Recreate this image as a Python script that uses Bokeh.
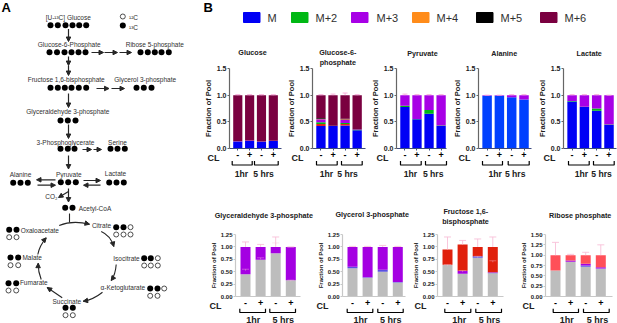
from bokeh.embed import file_html
from bokeh.resources import INLINE
from bokeh.plotting import figure
from bokeh.layouts import row, column
from bokeh.models import (Arrow, NormalHead, Label, Whisker, TeeHead, ColumnDataSource,
                          FixedTicker, Range1d, NumeralTickFormatter)
from bokeh.core.properties import value

FONT = "Liberation Sans"
M, M1, M2, M3, M4, M5, M6 = "M", "M+1", "M+2", "M+3", "M+4", "M+5", "M+6"
COLORS = {M: "#0000f5", M1: "#e0261a", M2: "#00b814", M3: "#a800e6", M4: "#ff8c1a", M5: "#000000", M6: "#7a0040"}
LEGEND_NAMES = [M, M2, M3, M4, M5, M6]
LEGEND_SWATCH_LEFT = [243, 291, 351, 412, 476, 540]
LEGEND_TEXT_LEFT = [267, 315, 376, 436, 500, 564]
TICK_SIGNS = ["-", "+", "-", "+"]

# ---- top row data -----------------------------------------------------
glucose = {M: [.13, .14, .125, .14], M3: [.005, .01, .005, .005], M6: [.865, .85, .87, .855]}
glucose_err = [1.01, 1.01, 1.01, 1.01]
g6p = {M: [.42, .42, .43, .34], M1: [.04, 0, .03, 0], M2: [.03, 0, .02, .005], M3: [.06, 0, .06, .01],
       M4: [.01, 0, .01, 0], M5: [.01, .005, .01, .005], M6: [.43, .575, .44, .64]}
g6p_err = [1.01, 1.02, 1.04, 1.01]
pyruvate = {M: [.78, .55, .65, .42], M2: [.02, .005, .07, .01], M3: [.2, .445, .28, .57]}
pyruvate_err = [1.02, 1.01, 1.01, 1.01]
alanine = {M: [.99, .99, .96, .92], M3: [.01, .01, .04, .08]}
alanine_err = [1.0, 1.0, 1.01, 1.01]
lactate = {M: [.88, .78, .71, .44], M2: [.01, .005, .04, .01], M3: [.11, .215, .25, .55]}
lactate_err = [1.01, 1.01, 1.01, 1.0]

# ---- bottom row data ----------------------------------------------------
GREY, BLUE2, PURPLE, RED, CORAL = "#bdbdbd", "#5a50e0", "#a400e2", "#e0200c", "#ff4f58"
ga3p = {"M": [.45, .74, .87, .33], "M+3": [.55, .26, .13, .67]}
ga3p_err = [1.10, 1.05, 1.20, 1.0]
ga3p_err2 = [.55, .78, 1.08, .33]
gro3p = {"M": [.57, .38, .5, .28], "M+1": [.03, .01, .04, .01], "M+3": [.4, .61, .46, .71]}
gro3p_err = [1.01, 1.01, 1.03, 1.01]
fbp = {"M": [.64, .46, .78, .47], "M+1": [0, .0, .03, .01], "M+3": [0, .06, 0, .01], "M+6": [.31, .53, .19, .51]}
fbp_err = [1.2, 1.13, 1.16, 1.2]
fbp_err2 = [.64, .52, .81, .72]
r5p = {"M": [.63, .84, .72, .67], "M+1": [0, 0, .03, .01], "M+3": [.0, .03, .04, .03], "M+5": [.37, .13, .21, .29]}
r5p_err = [1.31, 1.02, 1.07, 1.25]

# ---- pathway diagram ----------------------------------------------------
PATH_TEXT = [
    ("[U-¹³C] Glucose", 67.7, 17.3), ("Glucose-6-Phosphate", 68.7, 44), ("Ribose 5-phosphate", 154.3, 44),
    ("Fructose 1,6-bisphosphate", 65.7, 79.3), ("Glycerol 3-phosphate", 144.7, 79.3),
    ("Glyceraldehyde 3-phosphate", 67.3, 111.3), ("3-Phosphoglycerate", 65, 141.7), ("Serine", 117, 141.7),
    ("Alanine", 20, 174), ("Pyruvate", 68.3, 174), ("Lactate", 115, 173.3), ("CO₂", 51, 196),
    ("Acetyl-CoA", 94.5, 208.3), ("Citrate", 101, 225), ("Oxaloacetate", 39.3, 229.7), ("Malate", 31.7, 257),
    ("Isocitrate", 126, 257.7), ("Fumarate", 33.3, 282), ("α-Ketoglutarate", 122.3, 287.3), ("Succinate", 66.3, 300.7),
    ("¹²C", 133, 16.5), ("¹³C", 133, 26.5),
]
FILLED = [(50, 24.7), (57.3, 24.7), (65, 24.7), (72, 24.7), (78.7, 24.7), (85.7, 24.7), (122.3, 25),
          (49, 51.7), (56.5, 51.7), (64, 51.7), (71, 51.7), (78, 51.7), (85, 51.7),
          (140, 51.7), (147.3, 51.7), (154.3, 51.7), (161, 51.7), (168.3, 51.7),
          (50, 87.3), (57.3, 87.3), (64.3, 87.3), (71, 87.3), (78.3, 87.3), (85.7, 87.3),
          (136, 87.3), (143.3, 87.3), (151, 87.3), (60, 120), (67.3, 120), (75, 120),
          (60, 148.3), (67.3, 148.3), (74, 148.3), (110, 148.3), (117, 148.3), (124.3, 148.3),
          (12.7, 182.3), (20, 182.3), (27.3, 182.3), (60.3, 181.7), (67.7, 181.7), (75.3, 181.7),
          (108.7, 182), (116, 182), (123.3, 182), (64.7, 207.3), (72, 207.3),
          (115.7, 226.7), (123, 226.7), (8.7, 229.3), (16, 229.3), (10, 257), (17.7, 257),
          (143.7, 257.7), (150.3, 257.7), (8, 282.7), (15.7, 282.7), (149.7, 288), (157, 288),
          (65, 307.3), (72.3, 307.3)]
OPEN = [(122.3, 16), (130, 226.7), (115.7, 234), (123, 234), (130, 234), (8.7, 236.7), (16, 236.7),
        (10, 264.7), (17.7, 264.7), (157.3, 257.7), (143.7, 265), (150.3, 265), (157.3, 265),
        (8, 290), (15.7, 290), (163.7, 288), (149.7, 295.3), (157, 295.3), (65, 314.7), (72.3, 314.7)]
STRAIGHT = [(68, 28.5, 68, 41), (91, 52, 103, 52), (104, 52, 117, 52), (119, 52, 131, 52),
            (68, 56, 68, 65), (68, 65, 68, 75), (96, 88, 108.5, 88), (111, 88, 124, 88),
            (68, 93, 68, 107), (68, 124, 68, 138), (82, 149, 91, 149), (93, 149, 101, 149),
            (68, 155, 68, 168.5), (55, 179.3, 36, 179.3), (37, 184.7, 55, 184.7),
            (83, 180, 100, 180), (100, 184.7, 83, 184.7), (68, 188, 68, 201.5), (68, 191, 58, 197)]
CURVED = [(100.7, 231, 110, 235, 113.3, 246), (115.7, 264, 115, 274, 110.7, 280),
          (102, 291.7, 93, 299, 82.7, 300.7), (61.7, 297.3, 54, 292, 46.7, 287),
          (40.7, 279, 37.5, 271, 37.7, 262.7), (37.3, 254, 39, 245, 45.7, 237.3),
          (58.7, 225, 72, 219.5, 89, 223.7)]

# ---- chart furniture outside the plot frames, in page pixels ----------------
TITLES = [("Glucose", 252, 52), ("Glucose-6-", 337.3, 52), ("phosphate", 337.3, 61.5), ("Pyruvate", 422, 52.5),
          ("Alanine", 503.7, 52.5), ("Lactate", 588.7, 52.5),
          ("Glyceraldehyde 3-phosphate", 263.3, 214.7), ("Glycerol 3-phosphate", 371.7, 213.7),
          ("Fructose 1,6-", 465.3, 211.3), ("bisphosphate", 465, 220.7), ("Ribose phosphate", 579.7, 215)]
CL_TOP_X = [207, 291, 376, 458, 543]
CL_BOTTOM_X = [209, 316, 414, 522]
BRACKETS_TOP = [(231.7, 251.7), (254, 277.7), (316, 336.7), (341, 361.7), (400, 420.7), (425, 446),
                (482, 502), (507.7, 528.7), (568, 588.7), (593, 613.7)]
BRACKETS_BOTTOM = [(239.3, 265), (269.3, 295), (346.7, 372.3), (377.3, 402.7), (444.3, 470.3), (475.3, 501),
                   (552.7, 578), (583, 608.7)]
TIME_TOP_X = [241, 263, 326, 347, 410, 432.7, 494.7, 514.7, 581, 601]
TIME_BOTTOM_X = [252.7, 282.7, 360, 390.3, 458.7, 489, 566.3, 597]
TIME_LABELS = ["1hr", "5 hrs"]

ink = "#262626"


def blank(w, h, xr, yr):
    f = figure(width=w, height=h, x_range=Range1d(*xr), y_range=Range1d(*yr), output_backend="svg",
               toolbar_location=None, x_axis_location=None, y_axis_location=None, min_border=0,
               outline_line_color=None)
    f.grid.visible = False
    return f


path = blank(200, 323, (0, 200), (323, 0))
path.text([t[1] for t in PATH_TEXT], [t[2] for t in PATH_TEXT], text=[t[0] for t in PATH_TEXT],
          text_font=value(FONT), text_font_size="6.5px", text_align="center", text_baseline="middle", text_color="#303030")
path.scatter([d[0] for d in FILLED], [d[1] for d in FILLED], size=6, color="black", line_width=0)
path.scatter([d[0] for d in OPEN], [d[1] for d in OPEN], size=5, fill_color="white", line_color="#222", line_width=0.8)
for x0, y0, x1, y1 in STRAIGHT:
    path.add_layout(Arrow(x_start=x0, y_start=y0, x_end=x1, y_end=y1, line_width=1.2, line_color=ink,
                          end=NormalHead(size=4.5, fill_color=ink, line_color=ink)))
for x0, y0, cx, cy, x1, y1 in CURVED:
    path.quadratic(x0=[x0], y0=[y0], cx=[cx], cy=[cy], x1=[x1], y1=[y1], line_width=1.1, line_color=ink)
    path.add_layout(Arrow(x_start=x1 + (cx - x1) * 0.25, y_start=y1 + (cy - y1) * 0.25, x_end=x1, y_end=y1,
                          line_width=1, line_color=ink, end=NormalHead(size=4.5, fill_color=ink, line_color=ink)))
path.segment([69], [213], [69], [222], line_width=1.1, line_color=ink)
path.add_layout(Label(x=1, y=7, text="A", text_font=FONT, text_font_size="13px", text_font_style="bold",
                      text_baseline="middle", text_color="black"))

# ---- legend strip -----------------------------------------------------------
leg = blank(417, 42, (200, 617), (42, 0))
leg.quad(left=LEGEND_SWATCH_LEFT, right=[v + 16.5 for v in LEGEND_SWATCH_LEFT], top=[12] * 6, bottom=[22] * 6,
         color=[COLORS[n] for n in LEGEND_NAMES])
leg.text(LEGEND_TEXT_LEFT, [17] * 6, text=LEGEND_NAMES, text_font=value(FONT), text_font_size="11px",
         text_baseline="middle", text_color="#303030")
leg.add_layout(Label(x=203, y=7, text="B", text_font=FONT, text_font_size="13px", text_font_style="bold",
                     text_baseline="middle", text_color="black"))


def chart(stacks, colors, errors, fig_left, frame_left, frame_right, fig_right, heights, y_max, y_ticks,
          y_fmt, bar_px, pitch, first_px, errors2=None, small=False, err_color="#f7a8d8"):
    border_top, frame_h, border_bottom = heights
    frame_w = frame_right - frame_left
    x0 = 1 - first_px / pitch
    x1 = x0 + frame_w / pitch
    p = figure(width=fig_right - fig_left, height=sum(heights), x_range=Range1d(x0, x1),
               y_range=Range1d(0, y_max), output_backend="svg", toolbar_location=None,
               min_border_left=frame_left - fig_left, min_border_right=fig_right - frame_right,
               min_border_top=border_top, min_border_bottom=border_bottom, outline_line_color=None)
    p.grid.visible = False
    xs = [1, 2, 3, 4]
    names = list(stacks.keys())
    source = ColumnDataSource({"x": xs, **stacks})
    p.vbar_stack(names, x="x", width=bar_px / pitch, color=colors, source=source, line_width=0)
    totals = [sum(stacks[n][i] for n in names) for i in range(4)]
    sets = [(errors, totals, 1.0)]
    if errors2 is not None:
        sets.append((errors2, [e - 0.03 for e in errors2], 0.45))
    for hi, lo, alpha in sets:
        s = ColumnDataSource({"x": xs, "lo": lo, "hi": hi})
        p.add_layout(Whisker(base="x", lower="lo", upper="hi", source=s, line_color=err_color, line_width=0.9, line_alpha=alpha,
                             lower_head=None,
                             upper_head=TeeHead(size=7 if small else 5, line_color=err_color, line_width=0.9, line_alpha=alpha),
                             level="overlay"))
    ax = p.xaxis[0]
    ax.ticker = FixedTicker(ticks=xs)
    ax.major_label_overrides = dict(zip(xs, TICK_SIGNS))
    ax.major_label_text_font = FONT
    ax.major_label_text_font_style = "bold"
    ax.major_label_text_font_size = "9px"
    ax.major_label_text_color = "black"
    ax.major_label_standoff = 1
    ax.major_tick_in = 0
    ax.major_tick_out = 2
    ax.minor_tick_line_color = None
    ax.axis_line_width = 1.2
    ax.axis_line_color = "#c8c8c8" if small else "#3c4a80"
    ax.major_tick_line_color = None if small else "#3c4a80"
    ay = p.yaxis[0]
    ay.ticker = FixedTicker(ticks=y_ticks)
    ay.formatter = NumeralTickFormatter(format=y_fmt)
    ay.major_label_text_font = FONT
    ay.major_label_text_font_style = "bold"
    ay.major_label_text_font_size = "6px" if small else "7px"
    ay.major_label_text_color = "#202020"
    ay.major_label_standoff = 1
    ay.major_tick_in = 0
    ay.major_tick_out = 2
    ay.minor_tick_line_color = None
    ay.axis_line_width = 1.2
    ay.axis_line_color = "#c8c8c8" if small else "#666666"
    ay.major_tick_line_color = "#c8c8c8" if small else "#666666"
    ay.axis_label = "Fraction of Pool"
    ay.axis_label_text_font = FONT
    ay.axis_label_text_font_style = "bold"
    ay.axis_label_text_font_size = "6px" if small else "7.5px"
    ay.axis_label_text_color = "#202020"
    ay.axis_label_standoff = 1
    return p


T = dict(heights=(26, 80, 32), y_max=1.5, y_ticks=[0, .5, 1, 1.5], y_fmt="0.0", bar_px=9.5, pitch=12.3, first_px=8.6)
c1 = chart(glucose, [COLORS[n] for n in glucose], glucose_err, 200, 227, 281, 283, **T)
c2 = chart(g6p, [COLORS[n] for n in g6p], g6p_err, 283, 311, 365, 367, **T)
c3 = chart(pyruvate, [COLORS[n] for n in pyruvate], pyruvate_err, 367, 395, 446, 448, **T)
c4 = chart(alanine, ["#0040ff", COLORS[M3]], alanine_err, 448, 478, 531, 533, **T)
c5 = chart(lactate, [COLORS[n] for n in lactate], lactate_err, 533, 563, 616, 617, **T)

B = dict(y_fmt="0.00", bar_px=10, pitch=15.1, first_px=10, small=True, err_color="#f8c0d8")
t125 = [0, .25, .5, .75, 1, 1.25]
t150 = [0, .25, .5, .75, 1, 1.25, 1.5]
d1 = chart(ga3p, [GREY, PURPLE], ga3p_err, 200, 235, 300, 302, heights=(52, 65, 26), y_max=1.25, y_ticks=t125,
           errors2=ga3p_err2, **B)
d2 = chart(gro3p, [GREY, BLUE2, PURPLE], gro3p_err, 302, 342, 405, 407, heights=(52, 65, 26), y_max=1.25, y_ticks=t125, **B)
d3 = chart(fbp, [GREY, BLUE2, PURPLE, RED], fbp_err, 407, 437, 503, 505, heights=(54, 62, 27), y_max=1.25,
           y_ticks=t125, errors2=fbp_err2, **B)
d4 = chart(r5p, [GREY, BLUE2, PURPLE, CORAL], r5p_err, 505, 545, 612, 617, heights=(54, 63, 26), y_max=1.5, y_ticks=t150, **B)

# ---- transparent page-wide layer on top: titles, CL, brackets, time labels ---
top = blank(617, 323, (0, 617), (323, 0))
top.background_fill_color = None
top.border_fill_color = None
top.margin = (-323, 0, 0, 0)
bold = dict(text_font=value(FONT), text_font_style="bold", text_baseline="middle", text_color="#202020")
top.text([t[1] for t in TITLES], [t[2] for t in TITLES], text=[t[0] for t in TITLES], text_font_size="7.2px",
         text_align="center", **bold)
top.text(CL_TOP_X + CL_BOTTOM_X, [157] * 5 + [305] * 4, text=["CL"] * 9, text_font_size="9px", **bold)
top.text(TIME_TOP_X, [173] * 10, text=TIME_LABELS * 5, text_font_size="8.6px", text_align="center", **bold)
top.text(TIME_BOTTOM_X, [319] * 8, text=TIME_LABELS * 4, text_font_size="9px", text_align="center", **bold)
for spans, y0, y1 in ((BRACKETS_TOP, 160.5, 164.5), (BRACKETS_BOTTOM, 308.3, 312)):
    n = len(spans)
    top.multi_line([[a, a, b, b] for a, b in spans], [[y0, y1, y1, y0]] * n, line_color="black", line_width=1.2)

body = row(path, column(leg, row(c1, c2, c3, c4, c5, spacing=0), row(d1, d2, d3, d4, spacing=0), spacing=0), spacing=0)
root = column(body, top, spacing=0)
open("out.html", "w").write(file_html(root, INLINE))
